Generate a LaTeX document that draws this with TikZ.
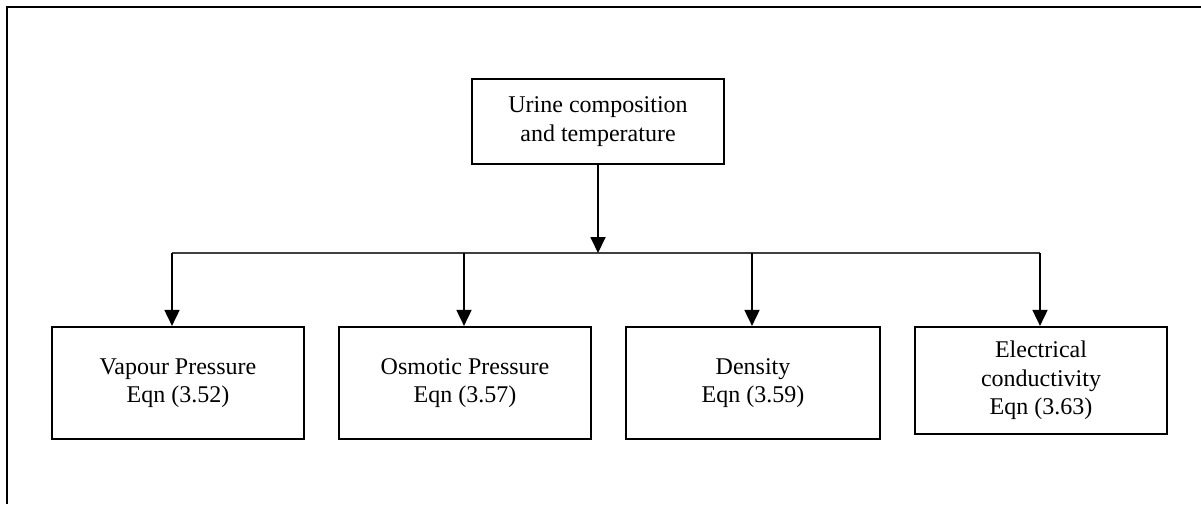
\documentclass[tikz,border=0pt]{standalone}
\usepackage{fontspec}
\setmainfont{Liberation Serif}
\usetikzlibrary{arrows.meta}
\begin{document}
\begin{tikzpicture}[x=1pt,y=-1pt,
  box/.style={draw,line width=2.2pt,minimum width=252pt,align=center,inner sep=0pt,
    font=\fontsize{24}{28.5}\selectfont},
  arr/.style={line width=1.8pt,-{Triangle[width=15pt,length=16pt]}},
  frame/.style={line width=2.6pt}]
\useasboundingbox (0,0) rectangle (1201,504);
\draw[frame] (7,504) -- (7,7) -- (1201,7);
\node[box,minimum height=85pt] (top) at (598,121.5) {Urine composition\\and temperature};
\node[box,minimum height=112pt] (b1) at (178,383) {Vapour Pressure\\Eqn (3.52)};
\node[box,minimum height=112pt] (b2) at (465,383) {Osmotic Pressure\\Eqn (3.57)};
\node[box,minimum height=112pt,minimum width=254pt] (b3) at (753,383) {Density\\Eqn (3.59)};
\node[box,minimum height=107pt] (b4) at (1041,380.5) {Electrical\\conductivity\\Eqn (3.63)};
\coordinate (h1) at (172,253);
\coordinate (h2) at (464,253);
\coordinate (h3) at (752,253);
\coordinate (h4) at (1040,253);
\draw[line width=1.4pt,black!75] (h1) -- (h4);
\draw[arr] (top.south) -- (top.south |- h1);
\draw[arr] (h1) -- (h1 |- b1.north);
\draw[arr] (h2) -- (h2 |- b2.north);
\draw[arr] (h3) -- (h3 |- b3.north);
\draw[arr] (h4) -- (h4 |- b4.north);
\end{tikzpicture}
\end{document}
